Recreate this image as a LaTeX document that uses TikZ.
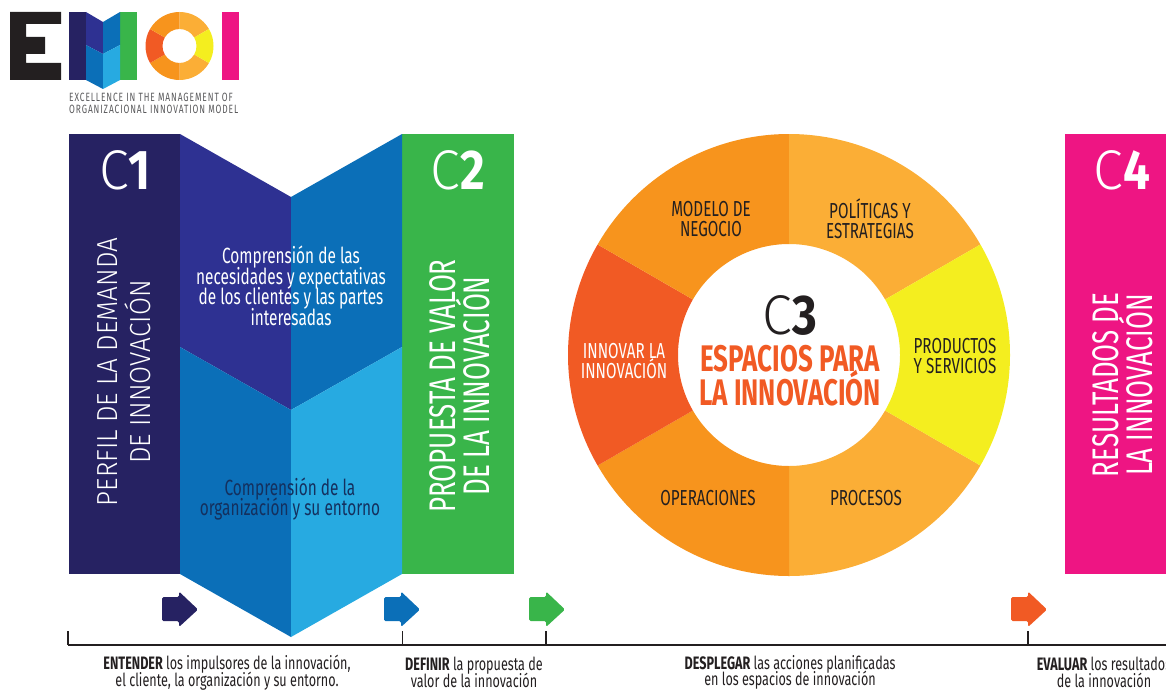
\documentclass[tikz,border=0pt]{standalone}
\usepackage{fontspec}
\setmainfont{Fira Sans}[FakeStretch=0.70,UprightFont=*,BoldFont=* Bold]
\newfontfamily\lightfont{Fira Sans Light}[FakeStretch=0.90]
\newfontfamily\codefont{Fira Sans Light}[FakeStretch=0.96]
\newfontfamily\digitfont{Fira Sans}[FakeStretch=0.85,UprightFont=* Bold]
\newfontfamily\logofont{Fira Sans}[FakeStretch=0.70,LetterSpace=7.5]
\setlength{\lineskiplimit}{-100pt}
\definecolor{navyC}{HTML}{262262}
\definecolor{indigoC}{HTML}{2E3192}
\definecolor{blueC}{HTML}{0B6FB8}
\definecolor{skyC}{HTML}{27AAE1}
\definecolor{greenC}{HTML}{39B54A}
\definecolor{orangeC}{HTML}{F7941D}
\definecolor{amberC}{HTML}{FBAE36}
\definecolor{redC}{HTML}{F15A24}
\definecolor{yellowC}{HTML}{F4EE1F}
\definecolor{pinkC}{HTML}{EE1583}
\definecolor{inkC}{HTML}{231F20}
\definecolor{deepC}{HTML}{14305E}
\definecolor{greyC}{HTML}{5A5A5C}
\tikzset{
  bigcode/.style={inner sep=0pt,text=white,font=\fontsize{56}{56}\selectfont},
  sidetitle/.style={inner sep=0pt,align=center,text=white,rotate=90},
  ribbontext/.style={inner sep=0pt,align=center,font=\fontsize{22}{20.5}\selectfont},
  sectortext/.style={inner sep=0pt,align=center,text=inkC,font=\fontsize{21.7}{20}\selectfont},
  bottomtext/.style={inner sep=0pt,align=center,text=inkC,font=\fontsize{18}{16.5}\selectfont},
  steparrow/.style={rounded corners=1.5pt},
  tickline/.style={draw=inkC,line width=1.5pt},
}
\newcommand{\stepshape}[2]{%
  \fill[#2,steparrow] (#1,597) -- ++(17,0) -- ++(0,-5.5) -- ++(19,18) -- ++(-19,17.5) -- ++(0,-6) -- ++(-17,0) -- cycle;
}
\begin{document}
\begin{tikzpicture}[x=1pt,y=-1pt]
  \useasboundingbox (0,0) rectangle (1166,690);
  \clip (0,0) rectangle (1166,690);
  % logo
  \fill[inkC] (10,12) -- (61,12) -- (61,24) -- (26,24) -- (26,37) -- (45,37) -- (45,54) -- (26,54) -- (26,63) -- (61,63) -- (61,80) -- (10,80) -- cycle;
  \fill[navyC] (69,12) rectangle (86,80);
  \fill[greenC] (120,12) rectangle (137,80);
  \fill[indigoC] (86,12) -- (103,22) -- (103,54) -- (86,45) -- cycle;
  \fill[blueC] (120,12) -- (103,22) -- (103,54) -- (120,45) -- cycle;
  \fill[blueC] (86,45) -- (103,54) -- (103,89) -- (86,80) -- cycle;
  \fill[skyC] (120,45) -- (103,54) -- (103,89) -- (120,80) -- cycle;
  \foreach \startAngle/\sectorColor in {30/amberC,90/orangeC,150/redC,210/orangeC,270/amberC,330/yellowC}{
    \fill[\sectorColor] (179.5,46) ++(\startAngle:34) arc[start angle=\startAngle,delta angle=60,radius=34] -- ++(\startAngle+60:-17) arc[start angle=\startAngle+60,delta angle=-60,radius=17] -- cycle;
  }
  \fill[pinkC] (222,12) rectangle (239,80);
  \node[inner sep=0pt,align=left,anchor=west,text=greyC,font=\logofont\fontsize{12}{12}\selectfont] (logotext) at (69,103.5) {EXCELLENCE IN THE MANAGEMENT OF\\ORGANIZACIONAL INNOVATION MODEL};
  % columns
  \fill[navyC] (69,134) rectangle (180,574);
  \fill[greenC] (402,134) rectangle (514,574);
  \fill[pinkC] (1065,134) rectangle (1180,574);
  % ribbon
  \fill[indigoC] (180,134) -- (291,197) -- (291,410) -- (180,347) -- cycle;
  \fill[blueC] (402,134) -- (291,197) -- (291,410) -- (402,347) -- cycle;
  \fill[blueC] (180,347) -- (291,410) -- (291,637) -- (180,574) -- cycle;
  \fill[skyC] (402,347) -- (291,410) -- (291,637) -- (402,574) -- cycle;
  \node[bigcode] (codeone) at (125,170) {{\codefont C}{\digitfont 1}};
  \node[bigcode] (codetwo) at (458,170) {{\codefont C}{\digitfont 2}};
  \node[bigcode] (codefour) at (1122,170) {{\codefont C}{\digitfont 4}};
  \node[sidetitle,font=\lightfont\fontsize{29}{33}\selectfont] (demandtitle) at (124,372) {PERFIL DE LA DEMANDA\\DE INNOVACIÓN};
  \node[sidetitle,font=\fontsize{37}{34}\selectfont] (valuetitle) at (460,386) {PROPUESTA DE VALOR\\DE LA INNOVACIÓN};
  \node[sidetitle,font=\fontsize{37}{34}\selectfont] (resulttitle) at (1123,385) {RESULTADOS DE\\LA INNOVACIÓN};
  \node[ribbontext,text=white] (needstext) at (291,286) {Comprensión de las\\necesidades y expectativas\\de los clientes y las partes\\interesadas};
  \node[ribbontext,text=deepC] (orgtext) at (290,499) {Comprensión de la\\organización y su entorno};
  % spaces wheel
  \pgfmathsetmacro{\wheelOuter}{221}
  \pgfmathsetmacro{\wheelInner}{111}
  \foreach \startAngle/\sectorColor in {30/amberC,90/orangeC,150/redC,210/orangeC,270/amberC,330/yellowC}{
    \fill[\sectorColor] (789,355) ++(\startAngle:\wheelOuter) arc[start angle=\startAngle,delta angle=60,radius=\wheelOuter] -- ++(\startAngle+60:-\wheelOuter+\wheelInner) arc[start angle=\startAngle+60,delta angle=-60,radius=\wheelInner] -- cycle;
  }
  \node[sectortext] (modeltext) at (711,219) {MODELO DE\\NEGOCIO};
  \node[sectortext] (policytext) at (870,219) {POLÍTICAS Y\\ESTRATEGIAS};
  \node[sectortext] (producttext) at (955,356) {PRODUCTOS\\Y SERVICIOS};
  \node[sectortext] (processtext) at (866,498) {PROCESOS};
  \node[sectortext] (operationtext) at (708,498) {OPERACIONES};
  \node[sectortext,text=white] (innovatetext) at (624,361) {INNOVAR LA\\INNOVACIÓN};
  \node[bigcode,text=inkC] (codethree) at (790,315) {{\codefont C}{\digitfont 3}};
  \node[inner sep=0pt,align=center,text=redC,font=\bfseries\fontsize{37}{34}\selectfont] (spacetitle) at (790,376) {ESPACIOS PARA\\LA INNOVACIÓN};
  % arrows
  \stepshape{162}{navyC}
  \stepshape{384}{blueC}
  \stepshape{529}{greenC}
  \stepshape{1011}{redC}
  % time line
  \coordinate (linestart) at (68,645);
  \coordinate (lineend) at (1180,645);
  \draw[tickline] (linestart) -- (lineend);
  \foreach \tickName/\tickX in {tickone/68,ticktwo/402.5,tickthree/546,tickfour/1028}{
    \coordinate (\tickName) at (\tickX,631);
    \draw[tickline] (\tickName) -- (\tickName |- linestart);
  }
  \node[bottomtext] (understandtext) at (227,672.5) {\textbf{ENTENDER} los impulsores de la innovación,\\el cliente, la organización y su entorno.};
  \node[bottomtext] (definetext) at (474,672.5) {\textbf{DEFINIR} la propuesta de\\valor de la innovación};
  \node[bottomtext] (deploytext) at (790,672.5) {\textbf{DESPLEGAR} las acciones planificadas\\en los espacios de innovación};
  \node[bottomtext] (evaluatetext) at (1104,672.5) {\textbf{EVALUAR} los resultados\\de la innovación};
\end{tikzpicture}
\end{document}
